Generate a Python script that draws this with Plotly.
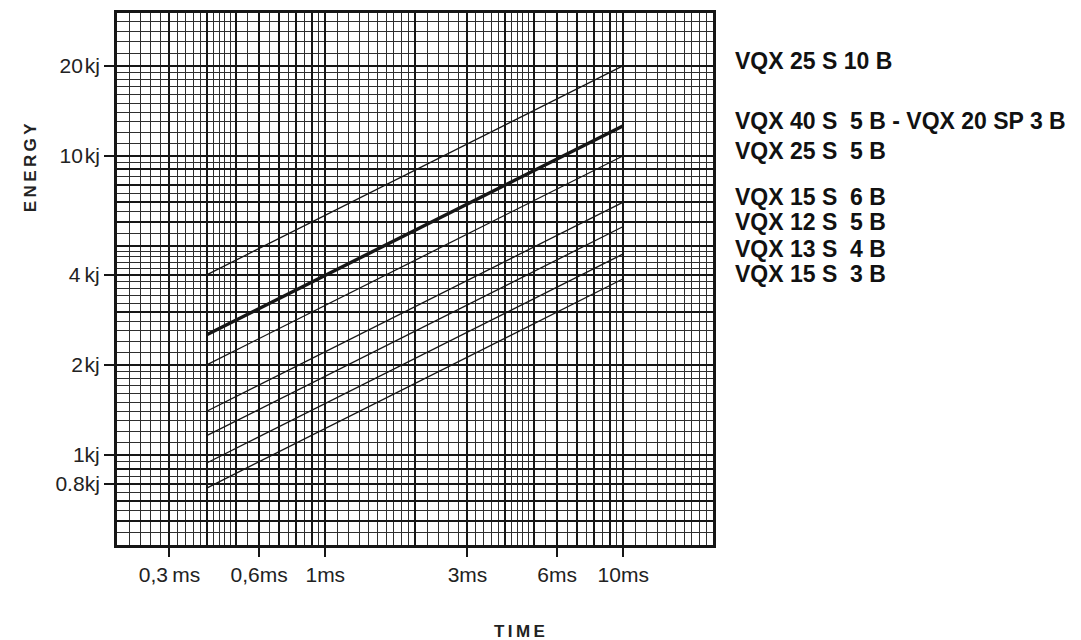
import numpy as np
import plotly.graph_objects as go

# ---- data ----
time_ms = [0.4, 10.0]                      # start / end of every line
e_vqx25s10b = [4.0, 20.0]                  # kJ
e_vqx40s5b = [2.52, 12.6]
e_vqx25s5b = [2.0, 10.0]
e_vqx15s6b = [1.4, 7.0]
e_vqx12s5b = [1.16, 5.8]
e_vqx13s4b = [0.94, 4.7]
e_vqx15s3b = [0.775, 3.88]

series_names = ["VQX 25 S 10 B", "VQX 40 S\u00a0\u00a05 B - VQX 20 SP 3 B", "VQX 25 S\u00a0\u00a05 B",
                "VQX 15 S\u00a0\u00a06 B", "VQX 12 S\u00a0\u00a05 B", "VQX 13 S\u00a0\u00a04 B", "VQX 15 S\u00a0\u00a03 B"]
series_vals = [e_vqx25s10b, e_vqx40s5b, e_vqx25s5b, e_vqx15s6b, e_vqx12s5b, e_vqx13s4b, e_vqx15s3b]
series_width = [1.3, 3.4, 1.3, 1.3, 1.3, 1.3, 1.3]

x_tick_vals = [0.3, 0.6, 1, 3, 6, 10]
x_tick_text = ["0,3\u2009ms", "0,6ms", "1ms", "3ms", "6ms", "10ms"]
y_tick_vals = [20, 10, 4, 2, 1, 0.8]
y_tick_text = ["20\u200akj", "10\u200akj", "4\u2009kj", "2\u200akj", "1kj", "0.8kj"]

# ---- graph-paper grid positions ----
x_heavy = [0.3, 0.4, 0.5, 0.6, 0.7, 0.8, 0.9, 1, 2, 3, 4, 5, 6, 7, 8, 9, 10]
x_fine = np.round(np.concatenate([np.arange(0.2, 0.5, 0.02), np.arange(0.5, 1, 0.05),
                                  np.arange(1, 2, 0.1), np.arange(2, 5, 0.2),
                                  np.arange(5, 10, 0.5), np.arange(10, 20, 1)]), 4).tolist()
y_heavy = [0.6, 0.7, 0.8, 0.9, 1, 2, 3, 4, 5, 6, 7, 8, 9, 10, 20]
y_fine = np.round(np.concatenate([np.arange(0.5, 1, 0.05), np.arange(1, 2, 0.1),
                                  np.arange(2, 5, 0.2), np.arange(5, 10, 0.5),
                                  np.arange(10, 20, 1), np.arange(20, 30, 2)]), 4).tolist()

x_range = [np.log10(0.2), np.log10(20)]
y_range = [np.log10(0.5), np.log10(30)]

INK = "#161616"
FONT = "Liberation Sans, Arial, sans-serif"
fig = go.Figure()

for name, vals, w in zip(series_names, series_vals, series_width):
    fig.add_trace(go.Scatter(x=time_ms, y=vals, mode="lines", name=name,
                             line=dict(color=INK, width=w), showlegend=False))

# invisible trace so the overlay (labelled) axes are rendered
fig.add_trace(go.Scatter(x=time_ms, y=e_vqx25s5b, xaxis="x2", yaxis="y2", mode="lines",
                         line=dict(width=0), opacity=0, showlegend=False, hoverinfo="skip"))

grid_axis = dict(type="log", showgrid=True, gridcolor=INK, gridwidth=2, ticks="",
                 showticklabels=False, showline=True, mirror=True, linecolor=INK,
                 linewidth=3, zeroline=False)

fig.update_layout(
    width=1081, height=640,
    margin=dict(l=117, r=368, t=10, b=95),
    paper_bgcolor="white", plot_bgcolor="white",
    font=dict(family=FONT, color="#1a1a1a"),
    xaxis=dict(**grid_axis, range=x_range, tickmode="array", tickvals=x_heavy,
               minor=dict(tickmode="array", tickvals=x_fine, showgrid=True,
                          gridcolor="#2e2e2e", gridwidth=1, ticks="")),
    yaxis=dict(**grid_axis, range=y_range, tickmode="array", tickvals=y_heavy,
               minor=dict(tickmode="array", tickvals=y_fine, showgrid=True,
                          gridcolor="#2e2e2e", gridwidth=1, ticks="")),
    xaxis2=dict(type="log", overlaying="x", anchor="y2", side="bottom", range=x_range,
                tickmode="array", tickvals=x_tick_vals, ticktext=x_tick_text,
                ticks="outside", ticklen=11, tickwidth=1.5, tickcolor=INK,
                showgrid=False, showline=False, zeroline=False,
                tickfont=dict(size=21, color="#222")),
    yaxis2=dict(type="log", overlaying="y", anchor="x2", side="left", range=y_range,
                tickmode="array", tickvals=y_tick_vals, ticktext=y_tick_text,
                ticks="outside", ticklen=12, tickwidth=1.5, tickcolor=INK,
                showgrid=False, showline=False, zeroline=False,
                tickfont=dict(size=21, color="#222")),
)

# right-hand series labels at the line ends
for name, vals in zip(series_names, series_vals):
    fig.add_annotation(x=1.033, xref="paper", xanchor="left",
                       y=np.log10(vals[-1]), yref="y", yanchor="middle", yshift=5,
                       text=name, showarrow=False,
                       font=dict(size=23, family=FONT, color="#111", weight="bold"))

# axis titles
fig.add_annotation(x=-0.146, xref="paper", xanchor="center", y=0.71, yref="paper",
                   yanchor="middle", text="E\u2009N\u2009E\u2009R\u2009G\u2009Y",
                   textangle=-90, showarrow=False,
                   font=dict(size=17, family=FONT, color="#222", weight="bold"))
fig.add_annotation(x=0.676, xref="paper", xanchor="center", y=-0.163, yref="paper",
                   yanchor="middle", text="T\u2009I\u2009M\u2009E",
                   showarrow=False, font=dict(size=17, family=FONT, color="#222", weight="bold"))

fig.write_html("out.html")
